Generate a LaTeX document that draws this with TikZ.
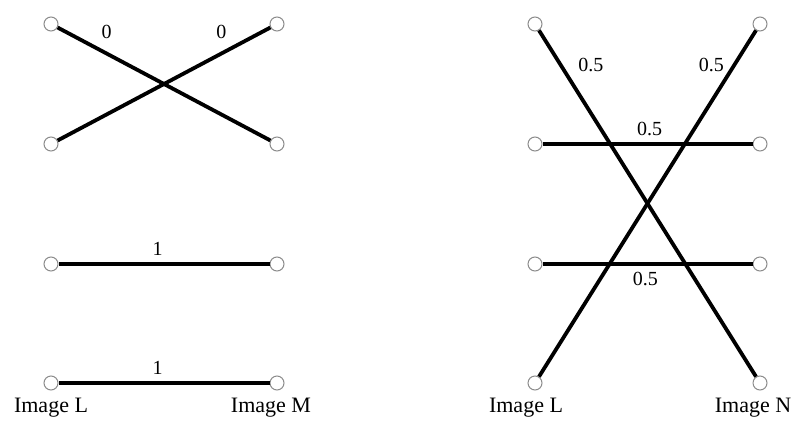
\documentclass[tikz,border=0pt]{standalone}
\usepackage{fontspec}
\setmainfont{Liberation Serif}
\usetikzlibrary{positioning}

\begin{document}
\begin{tikzpicture}[
  x=0.5pt, y=-0.5pt,
  every node/.style={font=\fontsize{10}{12}\selectfont},
  pix/.style={
    circle, draw=black!45, fill=white, line width=0.5pt,
    minimum size=7pt, inner sep=0pt,
  },
  match/.style={line width=1.9pt, draw=black},
  imglabel/.style={font=\fontsize{11}{13}\selectfont},
]
  \useasboundingbox (0,0) rectangle (792,428);

  % left panel: image L against image M
  \node[pix] (la1) at (51,  24) {};
  \node[pix] (la2) at (51, 144) {};
  \node[pix] (la3) at (51, 264) {};
  \node[pix] (la4) at (51, 383) {};
  \node[pix] (ma1) at (277, 24) {};
  \node[pix] (ma2) at (277,144) {};
  \node[pix] (ma3) at (277,264) {};
  \node[pix] (ma4) at (277,383) {};

  \node[imglabel] (labL1) at (51, 408)  {Image L};
  \node[imglabel] (labM)  at (271,408)  {Image M};

  \draw[match] (la1) -- node[pos=.23, above=3pt] {0} (ma2);
  \draw[match] (la2) -- node[pos=.77, above=3pt] {0} (ma1);
  \draw[match] (la3) -- node[pos=.47, above] {1} (ma3);
  \draw[match] (la4) -- node[pos=.47, above] {1} (ma4);

  % right panel: image L against image N
  \node[pix] (lb1) at (535, 24) {};
  \node[pix] (lb2) at (535,144) {};
  \node[pix] (lb3) at (535,264) {};
  \node[pix] (lb4) at (535,383) {};
  \node[pix] (nb1) at (760, 24) {};
  \node[pix] (nb2) at (760,144) {};
  \node[pix] (nb3) at (760,264) {};
  \node[pix] (nb4) at (760,383) {};

  \node[imglabel] (labL2) at (526,408) {Image L};
  \node[imglabel] (labN)  at (753,408) {Image N};

  \draw[match] (lb1) -- node[pos=.1, right=4.5pt] {0.5} (nb4);
  \draw[match] (lb4) -- node[pos=.9, left=1pt] {0.5} (nb1);
  \draw[match] (lb2) -- node[pos=.51, above] {0.5} (nb2);
  \draw[match] (lb3) -- node[pos=.49, below] {0.5} (nb3);
\end{tikzpicture}
\end{document}
